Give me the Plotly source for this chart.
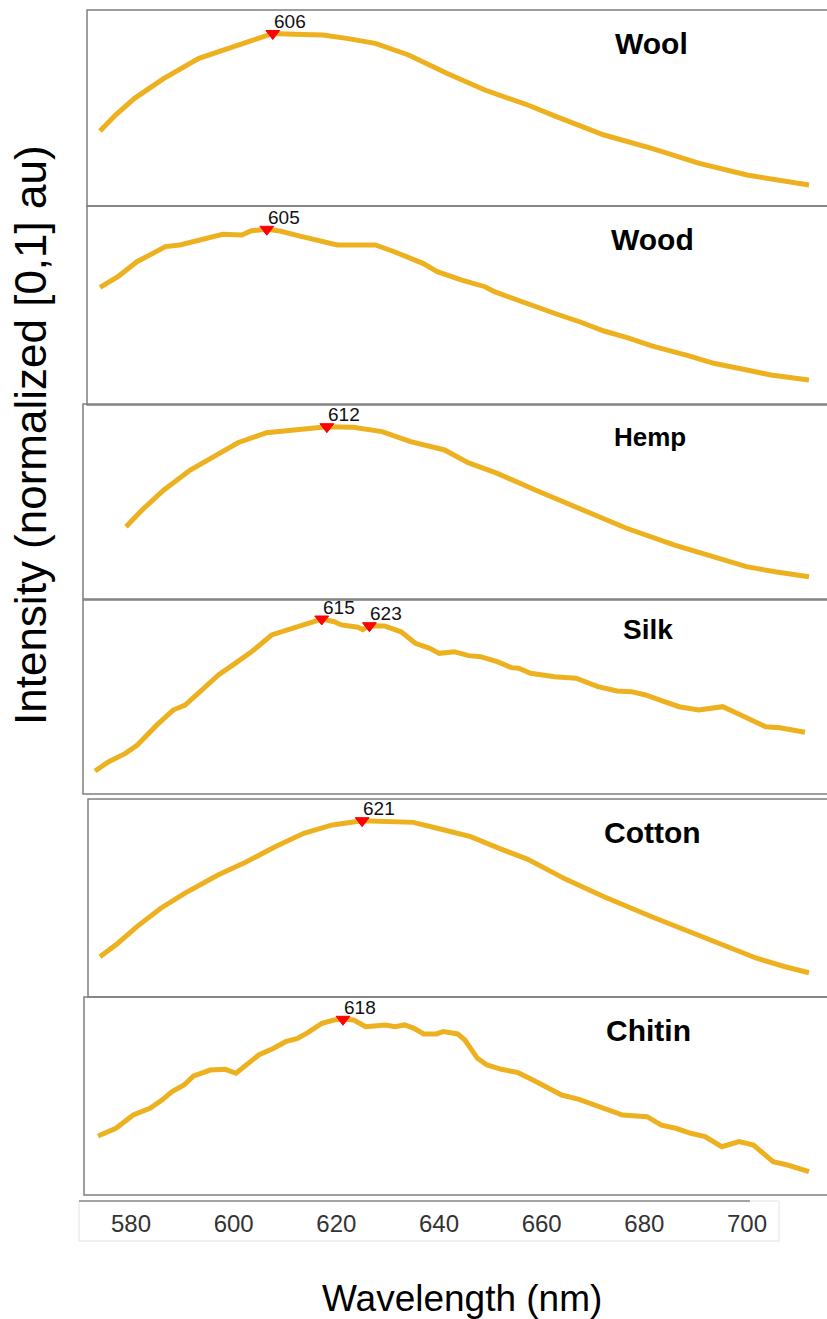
import numpy as np
import plotly.graph_objects as go

W, H = 827, 1319
FONT = "Liberation Sans, Arial, Helvetica, sans-serif"
LINE_COLOR = "#EDB120"
FRAME_COLOR = "#7f7f7f"

# ---------------- spectra: wavelength (nm) and normalised intensity ----------------
wool_wl = [577.0, 579.6, 582.8, 587.6, 593.6, 599.2, 604.8, 606.0, 609.6, 614.4, 618.4, 623.2,
           628.8, 635.2, 641.6, 648.8, 653.6, 661.6, 669.6, 677.6, 685.6, 690.4, 696.0]
wool_int = [0.356, 0.462, 0.572, 0.700, 0.836, 0.913, 0.992, 1.000, 0.995, 0.990, 0.968, 0.935,
            0.858, 0.737, 0.627, 0.528, 0.451, 0.330, 0.242, 0.143, 0.066, 0.033, 0.000]

wood_wl = [577.0, 580.0, 583.2, 588.0, 590.4, 593.6, 597.6, 600.8, 602.4, 605.0, 607.2, 610.4,
           613.6, 616.8, 623.2, 626.4, 631.2, 633.6, 637.6, 641.6, 643.2, 649.6, 653.6, 657.6,
           661.6, 665.6, 669.6, 676.0, 680.0, 685.6, 689.6, 696.0]
wood_int = [0.615, 0.685, 0.785, 0.885, 0.896, 0.929, 0.967, 0.962, 0.991, 1.000, 0.989, 0.956,
            0.929, 0.896, 0.896, 0.851, 0.774, 0.719, 0.664, 0.619, 0.586, 0.491, 0.438, 0.385,
            0.325, 0.279, 0.226, 0.159, 0.111, 0.066, 0.033, 0.000]

hemp_wl = [577.0, 579.8, 583.6, 588.2, 592.3, 596.5, 601.5, 606.5, 612.0, 616.6, 621.6, 626.6,
           632.5, 636.6, 641.7, 648.3, 655.9, 664.2, 672.6, 678.4, 685.1, 690.1, 696.0]
hemp_int = [0.333, 0.445, 0.578, 0.711, 0.800, 0.893, 0.960, 0.983, 1.000, 0.996, 0.967, 0.900,
            0.845, 0.760, 0.689, 0.578, 0.456, 0.323, 0.211, 0.145, 0.067, 0.033, 0.000]

silk_wl = [577.0, 579.3, 582.1, 584.1, 587.3, 590.1, 592.1, 595.0, 597.8, 600.2, 603.4, 606.6,
           609.8, 612.2, 615.0, 617.1, 618.3, 621.1, 621.9, 623.0, 625.5, 628.3, 630.7, 633.1,
           634.7, 637.2, 639.6, 641.6, 644.4, 646.8, 648.0, 650.0, 654.0, 657.6, 661.3, 664.5,
           666.9, 669.3, 671.7, 674.9, 678.2, 682.2, 684.6, 689.4, 691.8, 696.0]
silk_int = [0.000, 0.061, 0.116, 0.171, 0.300, 0.401, 0.434, 0.540, 0.635, 0.700, 0.790, 0.895,
            0.939, 0.965, 1.000, 0.982, 0.961, 0.946, 0.930, 0.956, 0.954, 0.916, 0.840, 0.807,
            0.774, 0.785, 0.759, 0.752, 0.719, 0.680, 0.676, 0.643, 0.620, 0.610, 0.555, 0.526,
            0.522, 0.500, 0.467, 0.423, 0.401, 0.423, 0.380, 0.291, 0.285, 0.255]

cotton_wl = [577.0, 580.0, 583.2, 587.2, 591.2, 596.8, 601.6, 606.4, 611.2, 616.0, 621.0, 624.8,
             629.6, 633.6, 639.2, 644.0, 648.8, 655.2, 661.6, 669.6, 677.6, 687.2, 692.0, 696.0]
cotton_int = [0.105, 0.194, 0.303, 0.424, 0.522, 0.643, 0.730, 0.829, 0.917, 0.972, 1.000, 0.998,
              0.989, 0.950, 0.895, 0.818, 0.746, 0.614, 0.500, 0.368, 0.241, 0.095, 0.039, 0.000]

chitin_wl = [577.0, 580.0, 582.9, 585.7, 587.7, 589.4, 591.4, 593.0, 595.8, 598.3, 600.1, 601.5,
             603.9, 606.4, 608.4, 610.4, 612.1, 614.5, 616.5, 618.0, 619.8, 621.8, 623.4, 625.1,
             626.7, 628.3, 629.9, 631.5, 633.6, 634.8, 637.2, 638.4, 640.5, 642.1, 644.5, 647.3,
             649.8, 654.6, 657.5, 660.8, 664.8, 668.9, 671.3, 673.7, 676.2, 678.6, 681.4, 684.3,
             686.7, 690.0, 692.4, 696.0]
chitin_int = [0.234, 0.285, 0.372, 0.416, 0.470, 0.525, 0.569, 0.628, 0.667, 0.672, 0.646, 0.689,
              0.766, 0.810, 0.853, 0.875, 0.912, 0.974, 0.995, 1.000, 0.995, 0.951, 0.956, 0.963,
              0.951, 0.963, 0.941, 0.904, 0.904, 0.919, 0.904, 0.864, 0.744, 0.700, 0.672, 0.650,
              0.602, 0.503, 0.475, 0.427, 0.372, 0.361, 0.306, 0.285, 0.252, 0.230, 0.164, 0.197,
              0.175, 0.066, 0.044, 0.000]

materials = ["Wool", "Wood", "Hemp", "Silk", "Cotton", "Chitin"]
wavelengths = [wool_wl, wood_wl, hemp_wl, silk_wl, cotton_wl, chitin_wl]
intensities = [wool_int, wood_int, hemp_int, silk_int, cotton_int, chitin_int]
peak_wl = [[606], [605], [612], [615, 623], [621], [618]]

# shared wavelength axis ticks
axis_ticks = [580, 600, 620, 640, 660, 680, 700]

# ---------------- panel geometry (pixels) ----------------
frames = [(87, 10, 206), (87, 206, 405), (83, 404, 599),
          (83, 600, 794), (88, 799, 997), (84, 997, 1195)]          # left, top, bottom
curve_x = [(100, 809), (100, 809), (126, 809), (95, 805), (100, 809), (98, 809)]
curve_y = [(33.5, 185), (229.3, 380), (426.7, 576.7),
           (619, 771), (820.7, 972.7), (1019.3, 1171.7)]            # row of 1, row of 0
title_pos = [(651, 43, 30), (652, 239, 30), (650, 437, 26),
             (648, 629, 28), (652, 832, 30), (648, 1030, 30)]

fig = go.Figure()
layout = {}
annotations = []
shapes = []

for i, name in enumerate(materials):
    n = i + 1
    sfx = "" if n == 1 else str(n)
    xa, ya = "x" + sfx, "y" + sfx
    wl, inten = wavelengths[i], intensities[i]
    left, top, bottom = frames[i]

    px0, px1 = curve_x[i]
    kx = (wl[-1] - wl[0]) / (px1 - px0)
    xr = [wl[0] + (left - px0) * kx, wl[0] + (W - px0) * kx]
    row1, row0 = curve_y[i]
    ky = 1.0 / (row0 - row1)
    yr = [(row0 - bottom) * ky, (row0 - top) * ky]

    layout["xaxis" + sfx] = dict(domain=[left / W, 1.0], range=xr, visible=False,
                                 anchor=ya, fixedrange=True)
    layout["yaxis" + sfx] = dict(domain=[1 - bottom / H, 1 - top / H], range=yr,
                                 visible=False, anchor=xa, fixedrange=True)

    fig.add_trace(go.Scatter(x=wl, y=inten, mode="lines", xaxis=xa, yaxis=ya,
                             line=dict(color=LINE_COLOR, width=5), showlegend=False,
                             hoverinfo="skip"))
    pk = peak_wl[i]
    pv = list(np.interp(pk, wl, inten))
    fig.add_trace(go.Scatter(x=pk, y=pv, mode="markers", xaxis=xa, yaxis=ya,
                             marker=dict(symbol="triangle-down", size=12, color="#ff0000",
                                         line=dict(width=1, color="#ff0000")),
                             cliponaxis=False, showlegend=False, hoverinfo="skip"))
    for p, v in zip(pk, pv):
        annotations.append(dict(x=p, y=v, xref=xa, yref=ya, text=str(p), showarrow=False,
                                xanchor="left", yanchor="middle", xshift=-1, yshift=12,
                                font=dict(family=FONT, size=19, color="#111111")))

    tx, ty, ts = title_pos[i]
    annotations.append(dict(x=tx / W, y=1 - ty / H, xref="paper", yref="paper", text=name,
                            showarrow=False, xanchor="center", yanchor="middle",
                            font=dict(family=FONT, size=ts, color="#000000", weight="bold")))

    shapes.append(dict(type="rect", xref="paper", yref="paper", x0=left / W, x1=1.05,
                       y0=1 - bottom / H, y1=1 - top / H,
                       line=dict(color=FRAME_COLOR, width=1.5)))

# ---------------- shared wavelength axis strip ----------------
ax_left, ax_right, ax_top, ax_bottom = 79, 779, 1201, 1241
t0_px, t1_px = 131, 747      # pixel centres of the first and last tick
kt = (axis_ticks[-1] - axis_ticks[0]) / (t1_px - t0_px)
layout["xaxis7"] = dict(domain=[ax_left / W, ax_right / W],
                        range=[axis_ticks[0] + (ax_left - t0_px) * kt,
                               axis_ticks[0] + (ax_right - t0_px) * kt],
                        tickvals=axis_ticks, ticks="", showline=False, showgrid=False,
                        zeroline=False, anchor="y7", fixedrange=True, ticklabelstandoff=4,
                        tickfont=dict(family=FONT, size=24, color="#333333"))
layout["yaxis7"] = dict(domain=[1 - 1203 / H, 1 - ax_top / H], visible=False,
                        anchor="x7", range=[0, 1], fixedrange=True)
fig.add_trace(go.Scatter(x=[], y=[], xaxis="x7", yaxis="y7", showlegend=False))

shapes.append(dict(type="rect", xref="paper", yref="paper", x0=ax_left / W, x1=ax_right / W,
                   y0=1 - ax_bottom / H, y1=1 - ax_top / H,
                   line=dict(color="#e2e2e2", width=1)))
shapes.append(dict(type="line", xref="paper", yref="paper", x0=ax_left / W, x1=750 / W,
                   y0=1 - ax_top / H, y1=1 - ax_top / H,
                   line=dict(color="#8a8a8a", width=1.5)))

# axis titles
annotations.append(dict(x=462 / W, y=1 - 1298 / H, xref="paper", yref="paper",
                        text="Wavelength (nm)", showarrow=False, xanchor="center",
                        yanchor="middle", font=dict(family=FONT, size=37, color="#000000")))
annotations.append(dict(x=30 / W, y=1 - 435 / H, xref="paper", yref="paper",
                        text="Intensity (normalized [0,1] au)", showarrow=False,
                        textangle=-90, xanchor="center", yanchor="middle",
                        font=dict(family=FONT, size=44, color="#000000")))

fig.update_layout(width=W, height=H, margin=dict(l=0, r=0, t=0, b=0),
                  paper_bgcolor="white", plot_bgcolor="white",
                  annotations=annotations, shapes=shapes, **layout)

fig.write_html("out.html", config={"displayModeBar": False})
